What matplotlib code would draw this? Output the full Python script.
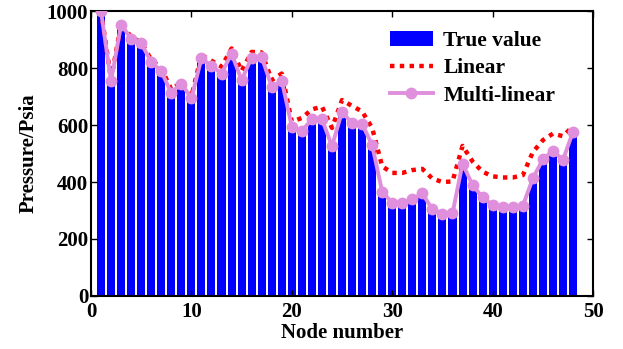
import numpy as np
import matplotlib.pyplot as plt

plt.rcParams['font.family'] = ['Liberation Serif', 'DejaVu Serif']
plt.rcParams['font.weight'] = 'bold'

nodes = np.arange(1, 49)
true_value = [1000, 754, 953, 904, 887, 822, 789, 713, 746, 694,
              834, 808, 781, 851, 758, 837, 839, 734, 756, 594,
              579, 621, 621, 526, 647, 606, 604, 530, 366, 327,
              327, 340, 360, 304, 288, 290, 465, 389, 346, 319,
              311, 311, 316, 413, 480, 510, 477, 577]
linear = [1000, 760, 955, 910, 890, 830, 800, 725, 750, 700,
          846, 826, 805, 869, 790, 857, 855, 758, 781, 612,
          625, 655, 665, 590, 688, 667, 648, 590, 455, 432,
          432, 442, 446, 412, 400, 402, 527, 472, 436, 420,
          416, 416, 424, 505, 547, 570, 561, 596]
multi_linear = true_value

fig = plt.figure(figsize=(6.23, 3.49), dpi=100)
ax = fig.add_axes([0.146, 0.152, 0.806, 0.816])

b = ax.bar(nodes, true_value, width=0.8, color='#0000ff', label='True value', zorder=1)
l1, = ax.plot(nodes, linear, color='red', linestyle=(0, (1, 1.2)), linewidth=3.2, label='Linear', zorder=2)
l2, = ax.plot(nodes, multi_linear, color='#e08fdc', linewidth=2.8, marker='o', markersize=7.5,
              label='Multi-linear', zorder=3)

ax.set_xlim(0, 50)
ax.set_ylim(0, 1000)
ax.set_xticks([0, 10, 20, 30, 40, 50])
ax.set_yticks([0, 200, 400, 600, 800, 1000])
ax.tick_params(direction='in', top=True, right=True, labelsize=15, width=1, length=4)
ax.tick_params(axis='x', pad=4)
ax.tick_params(axis='y', pad=2)
for s in ax.spines.values():
    s.set_linewidth(1.5)
ax.set_xlabel('Node number', fontsize=15, fontweight='bold', labelpad=1)
ax.set_ylabel('Pressure/Psia', fontsize=15, fontweight='bold', labelpad=6)

ax.legend(handles=[b, l1, l2], loc='upper right', bbox_to_anchor=(0.955, 0.985), frameon=False,
          fontsize=15.5, handlelength=2.0, handletextpad=0.5, labelspacing=0.35, borderaxespad=0.3)

fig.savefig('out.png', dpi=100)
